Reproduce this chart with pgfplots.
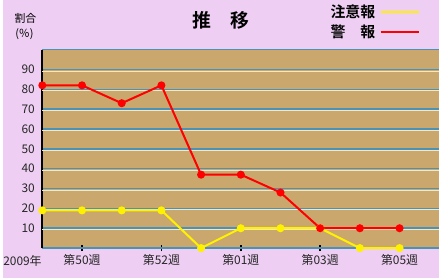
\documentclass[border=0pt]{standalone}
\usepackage{pgfplots}
\pgfplotsset{compat=1.18}
\usepackage{fontspec}
\setmainfont{Noto Sans CJK JP}[BoldFont={Noto Sans CJK JP Bold}]
\definecolor{bgc}{HTML}{EECFF3}
\definecolor{plotc}{HTML}{C9A76D}
\definecolor{gridc}{HTML}{4A92B8}
\definecolor{creamc}{HTML}{F2E8C4}
\pgfplotstableread{
x y
0 82
1 82
2 73
3 82
4 37
5 37
6 28
7 10
8 10
9 10
}\keihou
\pgfplotstableread{
x y
0 19
1 19
2 19
3 19
4 0
5 10
6 10
7 10
8 0
9 0
}\chuihou
\begin{document}
\begin{tikzpicture}[x=1bp,y=1bp]
\fill[bgc] (0,0) rectangle (440,280);
\begin{axis}[
  at={(40bp,30bp)}, anchor=origin,
  scale only axis, width=400bp, height=200bp,
  xmin=0, xmax=10, ymin=0, ymax=100,
  axis background/.style={fill=plotc},
  axis x line*=bottom, axis y line*=left,
  x axis line style={gridc, line width=1.5bp, -},
  y axis line style={black, line width=2bp, -},
  xtick={1,3,5,7,9},
  xticklabels={第50週,第52週,第01週,第03週,第05週},
  x tick style={black, line width=1.5bp},
  major tick length=6bp,
  tick align=center,
  ytick={10,20,...,90},
  y tick style={draw=none},
  ymajorgrids,
  major grid style={gridc, line width=1.5bp},
  extra y ticks={9.2,19.2,29.2,39.2,49.2,59.2,69.2,79.2,89.2},
  extra y tick labels={},
  extra y tick style={grid=major, major grid style={creamc, line width=1bp}, y tick style={draw=none}},
  tick label style={font=\fontsize{12bp}{13bp}\selectfont, text=black!85},
  /pgf/number format/assume math mode=true,
  xticklabel style={yshift=0bp},
  yticklabel style={xshift=-1bp},
  clip=false,
]
\draw[gridc, line width=1.5bp] (axis cs:0,100) -- (axis cs:10,100);
\addplot[yellow, line width=2bp, mark=*, mark size=3bp, mark options={fill=yellow, draw=yellow}] table[x=x,y=y] {\chuihou};
\addplot[red, line width=2bp, mark=*, mark size=3bp, mark options={fill=red, draw=red}] table[x=x,y=y] {\keihou};
\node[font=\fontsize{12bp}{13bp}\selectfont, text=black!85, anchor=north] at (axis cs:-0.5,0) [yshift=-4bp] {2009年};
\end{axis}
\node[font=\bfseries\fontsize{19bp}{20bp}\selectfont] at (220,260) {推\hspace{1em}移};
\node[font=\fontsize{11bp}{12bp}\selectfont] at (23,261) {割合};
\node[font=\fontsize{11bp}{12bp}\selectfont] at (22,246) {(％)};
\node[font=\bfseries\fontsize{15bp}{16bp}\selectfont, anchor=east] at (379,268) {注意報};
\node[font=\bfseries\fontsize{15bp}{16bp}\selectfont, anchor=east] at (379,248) {警\hspace{1em}報};
\draw[yellow, line width=2.5bp] (381,268) -- (420,268);
\draw[red, line width=2.5bp] (381,248) -- (420,248);
\end{tikzpicture}
\end{document}
